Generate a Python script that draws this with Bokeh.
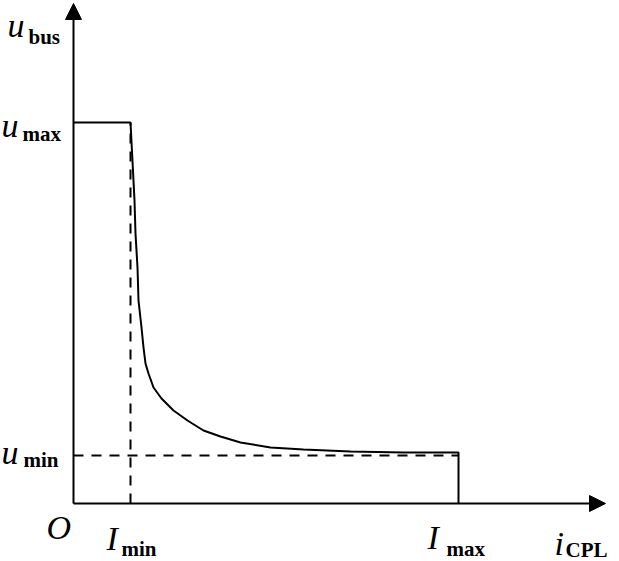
from bokeh.plotting import figure
from bokeh.models import Arrow, NormalHead, Range1d
from bokeh.core.properties import value
from bokeh.embed import file_html
from bokeh.resources import INLINE

# Schematic characteristic (arbitrary units, origin at O)
i_min = 57
i_max = 385
u_max = 381
u_min = 48
i_axis_end = 532
u_axis_end = 500

i_curve = [0, 57, 59, 61, 62, 64, 65, 68, 70, 72, 75, 80, 88, 100, 114, 130, 147,
           167, 197, 230, 277, 330, 385, 385]
u_curve = [381, 381, 342, 303, 270, 236, 203, 176, 156, 140, 130, 116, 105, 93, 83, 73, 67,
           61, 56, 54, 52, 51, 51, 0]

W, H = 619, 561
p = figure(width=W, height=H, output_backend="svg", toolbar_location=None,
           x_range=Range1d(-73, -73 + W), y_range=Range1d(503 - H, 503),
           min_border=0, outline_line_color=None)
p.axis.visible = False
p.grid.visible = False
p.background_fill_color = "white"
p.border_fill_color = "white"

# axes with arrows
p.add_layout(Arrow(x_start=0, y_start=0, x_end=i_axis_end, y_end=0,
                   line_width=2, line_color="black",
                   end=NormalHead(size=16, fill_color="black", line_color="black", line_width=1)))
p.add_layout(Arrow(x_start=0, y_start=0, x_end=0, y_end=u_axis_end,
                   line_width=2, line_color="black",
                   end=NormalHead(size=16, fill_color="black", line_color="black", line_width=1)))

# dashed guides
p.line([i_min, i_min], [0, u_max], line_color="black", line_width=2, line_dash="10 8")
p.line([0, i_max], [u_min, u_min], line_color="black", line_width=2, line_dash="10 8")

# characteristic curve
p.line(i_curve, u_curve, line_color="black", line_width=2)

font = value("Liberation Serif")
# main (italic) symbols
main_x = [-66, -72, -72, -27, 33, 354, 481]
main_y = [478, 378, 51, -24, -35, -34, -40]
main_t = ["u", "u", "u", "O", "I", "I", "i"]
p.text(x=main_x, y=main_y, text=main_t, text_font=font, text_font_style="italic",
       text_font_size="34px", text_baseline="alphabetic", text_align="left", text_color="black")

# subscripts
sub_x = [-45, -51, -50, 48, 373, 492]
sub_y = [467, 370, 44, -45, -45, -46]
sub_t = ["bus", "max", "min", "min", "max", "CPL"]
p.text(x=sub_x, y=sub_y, text=sub_t, text_font=font, text_font_style="bold",
       text_font_size="21px", text_baseline="alphabetic", text_align="left", text_color="black")

open("out.html", "w").write(file_html(p, INLINE))
